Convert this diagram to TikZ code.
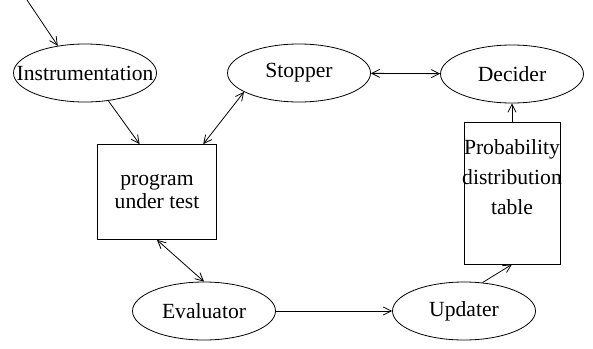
\documentclass[tikz,border=0pt]{standalone}
\usepackage{fontspec}
\setmainfont{Liberation Serif}
\usetikzlibrary{shapes.geometric}
\usetikzlibrary{arrows.meta}
\newcommand{\nobox}[1]{\makebox[0pt]{#1}}
\tikzset{
    common/.style={draw, inner sep=0pt, align=center},
    task/.style={common, ellipse, minimum width=71.5pt, minimum height=29pt},
    store/.style={common, rectangle},
    flow/.style={->, >={Straight Barb[length=4pt,width=4pt]}},
}

\begin{document}
\begin{tikzpicture}[x=0.5pt, y=-0.5pt, font=\fontsize{10.8}{11.5}\selectfont]
    \useasboundingbox (0,0) rectangle (593,348);
    \path
      node[task] (instr) at (85,73) {\nobox{Instrumentation}}
      node[task] (stopper) at (299,73) {Stopper}
      node[task] (decider) at (512,74) {Decider}
      node[store, minimum width=59.5pt, minimum height=47.5pt] (prog) at (157,192) {program\\under test}
      node[store, minimum width=47.5pt, minimum height=71pt] (table) at (512,193)
        {Probability\\[3.5pt]\nobox{distribution}\\[3.5pt]table\\[4pt]~}
      node[task] (eval) at (204,311) {Evaluator}
      node[task] (upd) at (464,311) {Updater};
    \coordinate (entry) at (27,0);
    % connectors
    \draw[flow] (entry) -- (instr.135);
    \draw[flow] (instr.-50) -- (prog.110);
    \draw[flow, <->] (stopper.199) -- (prog.46);
    \draw[flow, <->] (stopper) -- (decider);
    \draw[flow, <->] (prog.south) -- (eval.north);
    \draw[flow] (eval) -- (upd);
    \draw[flow] (upd.57) -- (table.south);
    \draw[flow] (table) -- (decider);
\end{tikzpicture}
\end{document}
